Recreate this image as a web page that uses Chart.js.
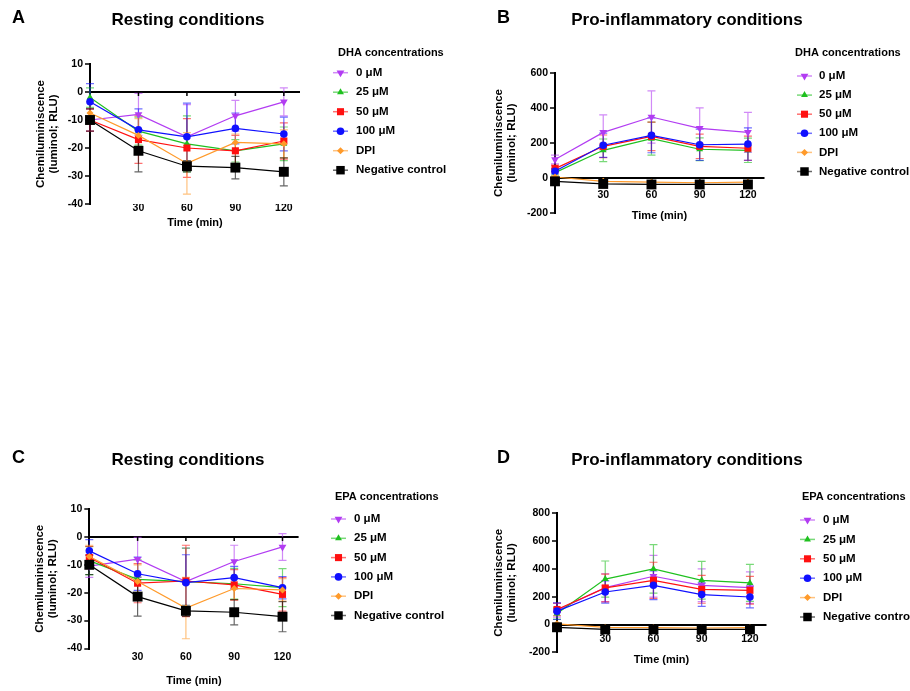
<!DOCTYPE html>
<html>
<head>
<meta charset="utf-8">
<script src="https://cdn.jsdelivr.net/npm/chart.js@4.4.1/dist/chart.umd.min.js"></script>
<style>
  body { margin: 0; background: #fff; }
  #fig { position: relative; width: 910px; height: 691px; background: #fff; font-family: "Liberation Sans", Arial, sans-serif; color: #000; }
  #fig canvas { position: absolute; }
  .letter { position: absolute; font-weight: bold; font-size: 18px; line-height: 18px; }
  .title { position: absolute; font-weight: bold; font-size: 17px; line-height: 17px; width: 300px; text-align: center; white-space: nowrap; }
</style>
</head>
<body>
<div id="fig">
  <canvas id="chartA" width="455" height="235" style="left:0;top:0"></canvas>
  <canvas id="chartB" width="455" height="235" style="left:455px;top:0"></canvas>
  <canvas id="chartC" width="455" height="246" style="left:0;top:445px"></canvas>
  <canvas id="chartD" width="455" height="246" style="left:455px;top:445px"></canvas>
  <div class="letter" style="left:12px;top:8px">A</div>
  <div class="title" style="left:38px;top:11px">Resting conditions</div>
  <div class="letter" style="left:497px;top:8px">B</div>
  <div class="title" style="left:537px;top:11px">Pro-inflammatory conditions</div>
  <div class="letter" style="left:12px;top:448px">C</div>
  <div class="title" style="left:38px;top:451px">Resting conditions</div>
  <div class="letter" style="left:497px;top:448px">D</div>
  <div class="title" style="left:537px;top:451px">Pro-inflammatory conditions</div>
</div>
<script>
const times = [0, 30, 60, 90, 120];
const xTicks = [30, 60, 90, 120];
const seriesLabels = ["0 μM", "25 μM", "50 μM", "100 μM", "DPI", "Negative control"];

// A - DHA, resting
const dhaRestMeans = [
  [-10, -8, -16, -8.5, -3.5],
  [-2, -14, -18.5, -21, -18.5],
  [-10, -17, -20, -21, -17.5],
  [-3.5, -13.5, -16, -13, -15],
  [-7.5, -15.5, -25.5, -18, -18.5],
  [-10, -21, -26.5, -27, -28.5],
];
const dhaRestErrors = [
  [4, 7.5, 11.5, 5.5, 5],
  [3.5, 5, 10, 4, 6],
  [4, 8.5, 10.5, 5.5, 6.5],
  [6.5, 7.5, 12, 5.5, 6],
  [4, 6, 11, 3, 5],
  [4, 7.5, 2, 4, 5],
];

// B - DHA, pro-inflammatory
const dhaInflMeans = [
  [105, 261, 349, 284, 261],
  [30, 158, 225, 164, 158],
  [53, 181, 238, 181, 170],
  [38, 187, 244, 190, 194],
  [5, -20, -25, -28, -25],
  [-20, -35, -38, -38, -38],
];
const dhaInflErrors = [
  [25, 100, 150, 118, 115],
  [20, 65, 95, 65, 70],
  [20, 65, 82, 70, 70],
  [15, 70, 100, 90, 93],
  [6, 6, 6, 6, 6],
  [8, 8, 8, 8, 8],
];

// C - EPA, resting
const epaRestMeans = [
  [-10.5, -8, -16, -8.8, -3.6],
  [-8.5, -15.2, -16, -16.8, -18.2],
  [-7.4, -16.6, -15.8, -17.2, -20.6],
  [-5, -13.2, -16.4, -14.6, -18.2],
  [-7, -16, -25.5, -18.5, -19],
  [-10, -21.4, -26.5, -27, -28.6],
];
const epaRestErrors = [
  [4, 7.8, 12, 5.8, 4.8],
  [5, 7, 12, 5.5, 6.8],
  [4, 7, 12.8, 5.5, 6],
  [4, 6, 10, 4, 4],
  [4, 6, 11, 4, 4],
  [3.5, 7, 2, 4.5, 5.4],
];

// D - EPA, pro-inflammatory
const epaInflMeans = [
  [103, 265, 347, 282, 265],
  [79, 327, 400, 318, 299],
  [108, 263, 318, 253, 246],
  [96, 234, 282, 215, 198],
  [5, -20, -22, -25, -22],
  [-20, -35, -35, -35, -35],
];
const epaInflErrors = [
  [50, 100, 150, 118, 113],
  [40, 130, 174, 136, 133],
  [45, 100, 130, 100, 100],
  [60, 80, 103, 84, 78],
  [6, 6, 6, 6, 6],
  [8, 8, 8, 8, 8],
];

const seriesColors = ["#b23cf2", "#1fc01f", "#ff1010", "#1010ff", "#ff9a2a", "#000000"];
const pointStyles = ["triangle", "triangle", "rect", "circle", "rectRot", "rect"];
const pointRotations = [180, 0, 0, 0, 0, 0];
const pointSizes = [4.5, 4, 5, 3.8, 3.5, 7];

const fontFamily = '"Liberation Sans", Arial, sans-serif';

function withAlpha(hex, a) {
  const n = parseInt(hex.slice(1), 16);
  return `rgba(${(n >> 16) & 255}, ${(n >> 8) & 255}, ${n & 255}, ${a})`;
}

// vertical error bars with caps, drawn under the points
const errorBars = {
  id: "errorBars",
  beforeDatasetsDraw(chart) {
    const { ctx, scales: { x, y } } = chart;
    ctx.save();
    ctx.lineWidth = 1.2;
    chart.data.datasets.forEach((ds) => {
      ctx.strokeStyle = withAlpha(ds.borderColor, 0.6);
      ds.data.forEach((p, j) => {
        const err = ds.errors[j];
        const px = x.getPixelForValue(p.x);
        const top = y.getPixelForValue(p.y + err);
        const bot = y.getPixelForValue(p.y - err);
        ctx.beginPath();
        ctx.moveTo(px, top);
        ctx.lineTo(px, bot);
        ctx.moveTo(px - 4, top);
        ctx.lineTo(px + 4, top);
        ctx.moveTo(px - 4, bot);
        ctx.lineTo(px + 4, bot);
        ctx.stroke();
      });
    });
    ctx.restore();
  },
};

// little tick marks on the zero line when the labels sit at the bottom
const zeroTicks = {
  id: "zeroTicks",
  beforeDatasetsDraw(chart, args, opts) {
    if (!opts.on) return;
    const { ctx, scales: { x, y } } = chart;
    const y0 = y.getPixelForValue(0);
    ctx.save();
    ctx.strokeStyle = "#000";
    ctx.lineWidth = 1.5;
    xTicks.forEach((v) => {
      const px = x.getPixelForValue(v);
      ctx.beginPath();
      ctx.moveTo(px, y0);
      ctx.lineTo(px, y0 + 4);
      ctx.stroke();
    });
    ctx.restore();
  },
};

const sideLegend = {
  id: "sideLegend",
  afterDraw(chart, args, opts) {
    const ctx = chart.ctx;
    ctx.save();
    ctx.fillStyle = "#000";
    ctx.textBaseline = "middle";
    ctx.font = `bold 11px ${fontFamily}`;
    ctx.fillText(opts.title, opts.titleX, opts.titleY);
    ctx.font = `bold 11.5px ${fontFamily}`;
    chart.data.datasets.forEach((ds, i) => {
      const yy = opts.y0 + i * opts.gap;
      ctx.strokeStyle = withAlpha(ds.borderColor, 0.6);
      ctx.lineWidth = 1.5;
      ctx.beginPath();
      ctx.moveTo(opts.lineX, yy);
      ctx.lineTo(opts.lineX + 15, yy);
      ctx.stroke();
      ctx.fillStyle = ds.borderColor;
      Chart.helpers.drawPoint(ctx, {
        pointStyle: ds.pointStyle,
        rotation: ds.pointRotation,
        radius: Math.min(ds.pointRadius, 6),
        borderWidth: 0,
      }, opts.lineX + 7.5, yy);
      ctx.fillStyle = "#000";
      ctx.fillText(ds.label, opts.textX, yy);
    });
    ctx.restore();
  },
};

function makePanel(id, means, errors, yRange, geo, legend) {
  const canvas = document.getElementById(id);
  const W = canvas.width;
  const H = canvas.height;

  const datasets = seriesLabels.map((label, i) => ({
    label: label,
    data: times.map((t, j) => ({ x: t, y: means[i][j] })),
    errors: errors[i],
    borderColor: seriesColors[i],
    backgroundColor: seriesColors[i],
    borderWidth: 1.2,
    pointStyle: pointStyles[i],
    pointRotation: pointRotations[i],
    pointRadius: pointSizes[i],
    pointBorderWidth: 0,
    order: seriesLabels.length - 1 - i,
    clip: false,
  }));

  new Chart(canvas, {
    type: "line",
    data: { datasets: datasets },
    plugins: [errorBars, zeroTicks, sideLegend],
    options: {
      responsive: false,
      animation: false,
      devicePixelRatio: 1,
      layout: {
        padding: {
          left: 0,
          top: geo.top,
          right: W - geo.right,
          bottom: geo.xAtZero ? H - geo.bottom : 0,
        },
      },
      plugins: {
        legend: { display: false },
        tooltip: { enabled: false },
        zeroTicks: { on: !geo.xAtZero },
        sideLegend: legend,
      },
      scales: {
        x: {
          type: "linear",
          min: 0,
          max: 130,
          position: geo.xAtZero ? { y: 0 } : "bottom",
          afterBuildTicks: (s) => {
            s.ticks = xTicks.map((v) => ({ value: v }));
          },
          afterFit: (s) => {
            s.height = geo.xAtZero ? geo.xHeight : H - geo.bottom;
          },
          border: { display: geo.xAtZero, color: "#000", width: 2 },
          grid: {
            display: geo.xAtZero,
            drawTicks: geo.xAtZero,
            drawOnChartArea: false,
            color: "#000",
            tickLength: 4,
            lineWidth: 1.5,
          },
          ticks: {
            color: "#000",
            padding: geo.xTickPad,
            maxRotation: 0,
            font: { family: fontFamily, size: 10.5, weight: "bold" },
          },
          title: {
            display: true,
            text: "Time (min)",
            color: "#000",
            font: { family: fontFamily, size: 11, weight: "bold", lineHeight: 1.2 },
            padding: { top: 0, bottom: geo.xTitlePad },
          },
        },
        y: {
          min: yRange[0],
          max: yRange[1],
          afterFit: (s) => {
            s.width = geo.left;
          },
          border: { display: true, color: "#000", width: 2 },
          grid: {
            color: (c) => (c.tick && c.tick.value === 0 ? "#000" : "rgba(0,0,0,0)"),
            lineWidth: 2,
            tickColor: "#000",
            tickWidth: 1.5,
            tickLength: 5,
          },
          ticks: {
            stepSize: yRange[2],
            color: "#000",
            padding: 2,
            font: { family: fontFamily, size: 10.5, weight: "bold" },
          },
          title: {
            display: true,
            text: ["Chemiluminiscence", "(luminol; RLU)"],
            color: "#000",
            font: { family: fontFamily, size: 11.5, weight: "bold", lineHeight: 1.1 },
            padding: { top: geo.yTitlePad, bottom: 0 },
          },
        },
      },
    },
  });
}

makePanel("chartA", dhaRestMeans, dhaRestErrors, [-40, 10, 10],
  { left: 90, top: 64, right: 300, bottom: 204, xAtZero: false, xTickPad: -2, xTitlePad: 5.7, yTitlePad: 34.7 },
  { title: "DHA concentrations", titleX: 338, titleY: 53, lineX: 333, textX: 356, y0: 72.7, gap: 19.5 });

makePanel("chartB", dhaInflMeans, dhaInflErrors, [-200, 600, 200],
  { left: 100, top: 73.3, right: 309, bottom: 212.7, xAtZero: true, xHeight: 45, xTickPad: 7, xTitlePad: 0, yTitlePad: 37.7 },
  { title: "DHA concentrations", titleX: 340, titleY: 53, lineX: 342, textX: 364, y0: 76, gap: 19.1 });

makePanel("chartC", epaRestMeans, epaRestErrors, [-40, 10, 10],
  { left: 89.3, top: 64, right: 298.6, bottom: 203.5, xAtZero: false, xTickPad: 2, xTitlePad: 3.4, yTitlePad: 33.7 },
  { title: "EPA concentrations", titleX: 335, titleY: 52, lineX: 331, textX: 354, y0: 74, gap: 19.3 });

makePanel("chartD", epaInflMeans, epaInflErrors, [-200, 800, 200],
  { left: 102, top: 68.3, right: 311, bottom: 207.3, xAtZero: true, xHeight: 42.3, xTickPad: 4.3, xTitlePad: 0, yTitlePad: 37.7 },
  { title: "EPA concentrations", titleX: 347, titleY: 52, lineX: 345, textX: 368, y0: 75, gap: 19.4 });
</script>
</body>
</html>
